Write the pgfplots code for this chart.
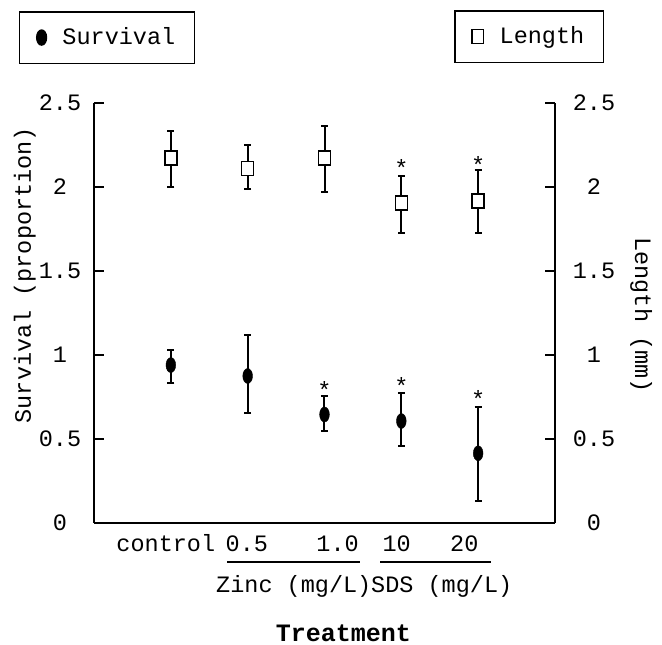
\documentclass[border=0pt]{standalone}
\usepackage{fontspec}
\setmainfont{Liberation Mono}
\usepackage{pgfplots}
\pgfplotsset{compat=1.18}
\usepackage{pgfplotstable}

\pgfplotstableread{
x y ep em
0 0.940 0.090 0.107
1 0.875 0.242 0.222
2 0.646 0.110 0.097
3 0.607 0.169 0.147
4 0.415 0.277 0.282
}\survival

\pgfplotstableread{
x y ep em
0 2.174 0.159 0.172
1 2.111 0.137 0.125
2 2.174 0.191 0.206
3 1.906 0.159 0.182
4 1.916 0.185 0.192
}\lengthdata

\pgfplotsset{
  base/.style={
    scale only axis, width=461pt, height=420pt,
    at={(94pt,122pt)}, anchor=south west,
    xmin=-1, xmax=5, ymin=0, ymax=2.5, clip=false,
    ytick={0,0.5,1,1.5,2,2.5}, yticklabels={0,0.5,1,1.5,2,2.5},
    tick align=inside, major tick length=10pt,
    every tick/.style={black, line width=1.5pt},
    axis line style={line width=1.6pt},
    legend cell align=left,
    legend style={draw=black, line width=1.5pt, inner xsep=17pt, inner ysep=13.5pt, fill=white,
      /tikz/every odd column/.append style={column sep=14pt}},
    error bars/error bar style={line width=2pt, black},
    error bars/error mark options={rotate=90, line width=2pt, mark size=3.5pt, black},
  }
}

\begin{document}
\fontsize{23.5}{28}\selectfont
\begin{tikzpicture}
\useasboundingbox (0,0) rectangle (662pt,645pt);
\begin{axis}[base, axis y line*=left, axis x line*=bottom,
  xtick={-0.065,0.99,2.17,2.94,3.82}, xticklabels={control,0.5,1.0,10,20},
  xtick style={draw=none},
  xticklabel style={anchor=base, yshift=-29pt},
  yticklabel style={anchor=center, xshift=-34pt},
  xlabel={\bfseries Treatment},
  xlabel style={font=\fontsize{25}{30}\selectfont, at={(axis description cs:0.541,-0.281)}, anchor=base},
  ylabel={Survival (proportion)},
  ylabel style={at={(axis description cs:-0.15,0.59)}, anchor=center},
  legend style={at={(axis description cs:-0.1627,1.219)}, anchor=north west},
]
\addplot[only marks, mark=*, mark size=7.5pt, mark options={xscale=0.65, fill=black},
  error bars/.cd, y dir=both, y explicit]
  table[x=x, y=y, y error plus=ep, y error minus=em]{\survival};
\addlegendentry{Survival}
\node[yshift=-4pt] at (axis cs:2,0.815) {*};
\node[yshift=-4pt] at (axis cs:3,0.842) {*};
\node[yshift=-4pt] at (axis cs:4,0.762) {*};
\end{axis}
\begin{axis}[base, axis y line*=right, axis x line=none,
  yticklabel style={anchor=center, xshift=39pt},
  ylabel={Length (mm)},
  ylabel style={at={(axis description cs:1.187,0.495)}, anchor=center, rotate=180},
  legend style={at={(axis description cs:0.781,1.221)}, anchor=north west},
]
\addplot[only marks, mark=square*, mark size=7pt, line width=1.5pt,
  mark options={xscale=0.85, fill=white, draw=black},
  error bars/.cd, y dir=both, y explicit]
  table[x=x, y=y, y error plus=ep, y error minus=em]{\lengthdata};
\addlegendentry{Length}
\node[yshift=-4pt] at (axis cs:3,2.137) {*};
\node[yshift=-4pt] at (axis cs:4,2.155) {*};
\end{axis}
\draw[line width=1.5pt] (227pt,83pt) -- (360pt,83pt);
\draw[line width=1.5pt] (380pt,83pt) -- (491pt,83pt);
\node[anchor=base west, inner sep=0pt] at (216pt,52pt) {Zinc (mg/L)};
\node[anchor=base west, inner sep=0pt] at (371pt,52pt) {SDS (mg/L)};
\end{tikzpicture}
\end{document}
